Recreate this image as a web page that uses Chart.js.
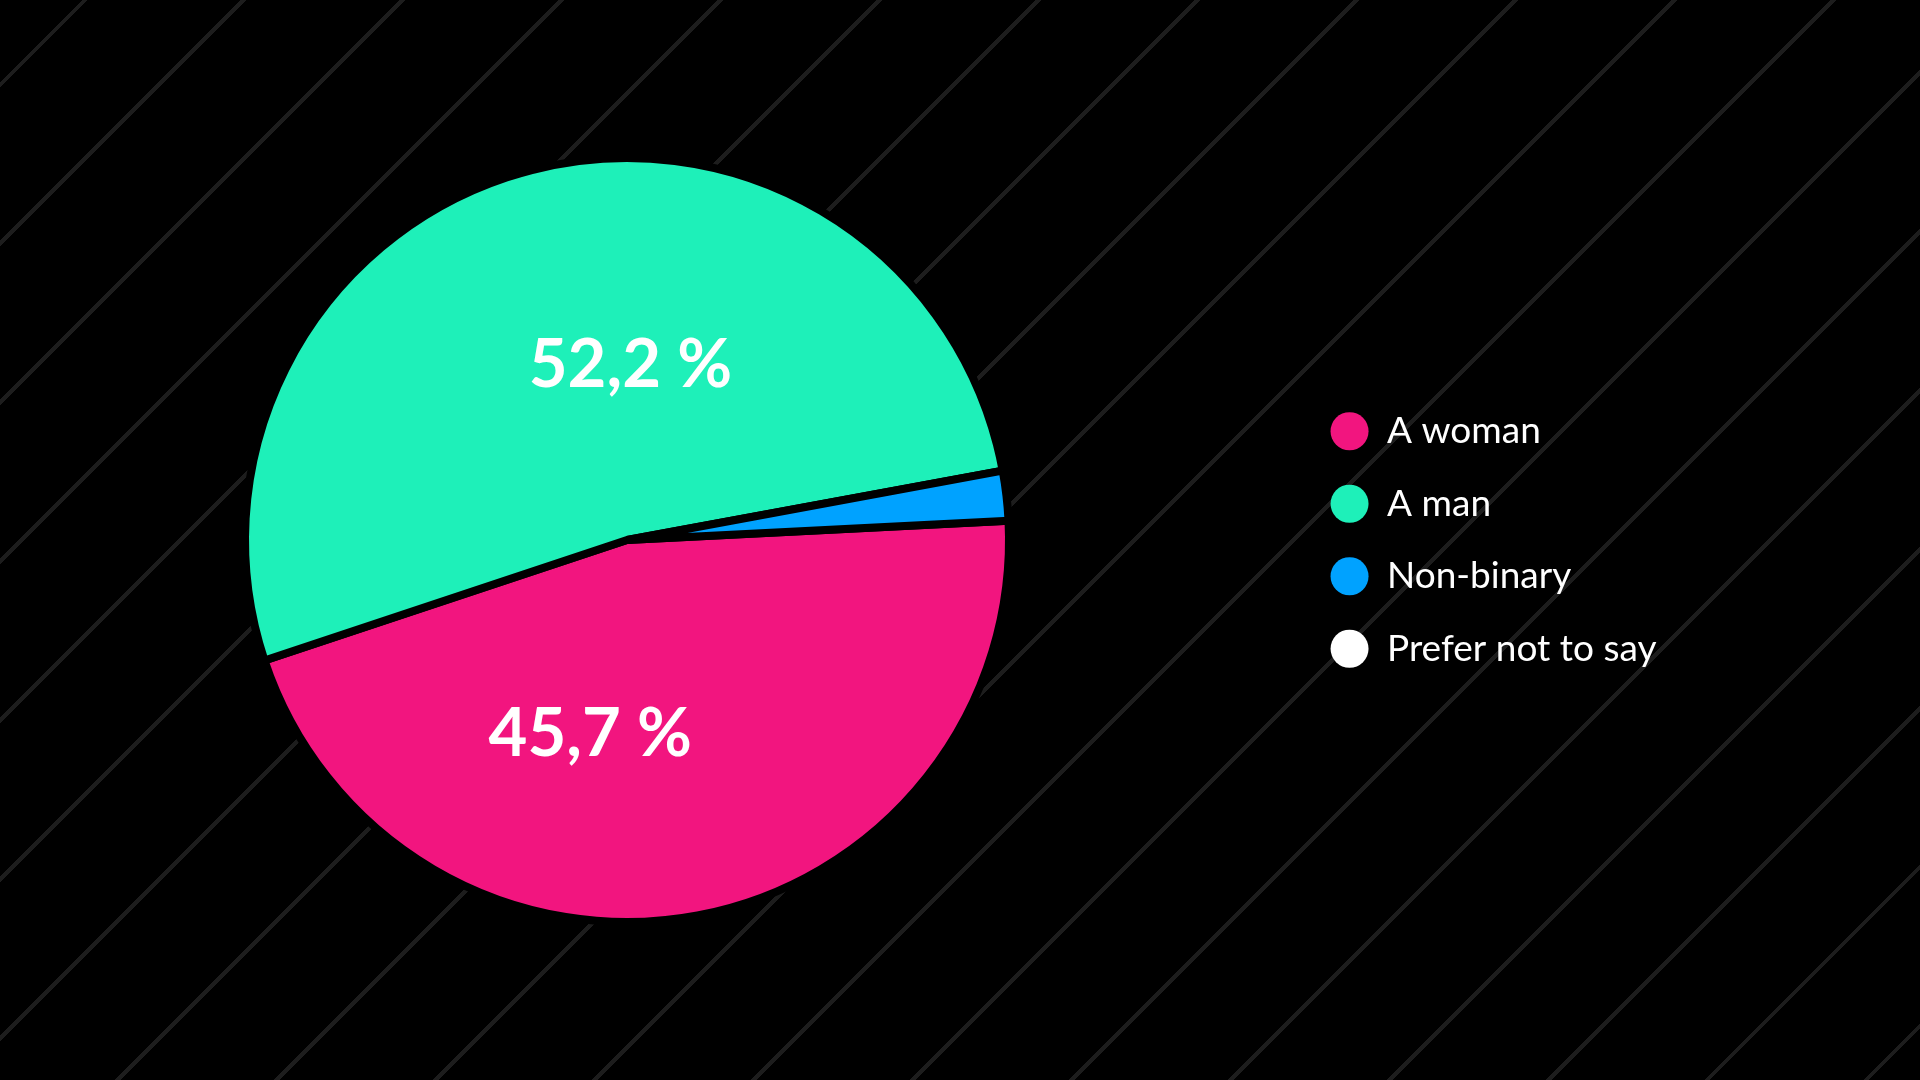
<!DOCTYPE html>
<html>
<head>
<meta charset="utf-8">
<script src="https://cdn.jsdelivr.net/npm/chart.js@4.4.0/dist/chart.umd.min.js"></script>
<style>
  html, body { margin: 0; padding: 0; }
  body {
    position: relative;
    width: 1920px;
    height: 1080px;
    overflow: hidden;
    background-color: #000;
    background-image: repeating-linear-gradient(135deg, #000 0, #000 58px, #1d1d1d 58px, #1d1d1d 62px, #000 62px, #000 112.4px);
  }
  /* pie sits left of the chart area centre, so the canvas is pushed a bit off screen */
  #genderChart { position: absolute; left: -41px; top: 0; }
</style>
</head>
<body>
<canvas id="genderChart" width="1961" height="1080"></canvas>
<script>
const categories = ['A woman', 'A man', 'Non-binary', 'Prefer not to say'];
const shares = [45.7, 52.2, 2.1, 0];
const sliceColors = ['#f2157f', '#1ef0b9', '#00a2ff', '#ffffff'];
const labelNudgeX = [-72, 51, 0, 0]; // shift of the % labels off the slice centroid
const labelNudgeY = [7, 10, 0, 0];

const formatShare = v => v.toFixed(1).replace('.', ',') + ' %';

// no datalabels plugin here, so draw the big % numbers by hand
const sliceLabels = {
  id: 'sliceLabels',
  afterDatasetsDraw(chart) {
    const ctx = chart.ctx;
    const meta = chart.getDatasetMeta(0);
    ctx.save();
    ctx.font = 'bold 67px Lato';
    ctx.fillStyle = '#fff';
    ctx.textAlign = 'center';
    ctx.textBaseline = 'middle';
    meta.data.forEach((arc, i) => {
      if (shares[i] < 10) return;
      const p = arc.tooltipPosition();
      ctx.fillText(formatShare(shares[i]), p.x + labelNudgeX[i], p.y + labelNudgeY[i]);
    });
    ctx.restore();
  }
};

const ctx = document.getElementById('genderChart').getContext('2d');

const genderChart = new Chart(ctx, {
  type: 'pie',
  data: {
    labels: categories,
    datasets: [{
      data: shares,
      backgroundColor: sliceColors,
      borderColor: '#000',
      borderWidth: 8
    }]
  },
  options: {
    responsive: false,
    animation: false,
    rotation: 87.1,
    layout: {
      padding: { left: 0, right: 253.5, top: 154, bottom: 154 }
    },
    plugins: {
      tooltip: { enabled: false },
      legend: {
        position: 'right',
        labels: {
          color: '#fff',
          font: { family: 'Lato', size: 37 },
          usePointStyle: true,
          pointStyle: 'circle',
          boxHeight: 27,
          pointStyleWidth: 38,
          padding: 35.5,
          generateLabels: chart => {
            return Chart.overrides.pie.plugins.legend.labels.generateLabels(chart)
              .map(item => ({ ...item, lineWidth: 0 }));
          }
        }
      }
    }
  },
  plugins: [sliceLabels]
});
</script>
</body>
</html>
